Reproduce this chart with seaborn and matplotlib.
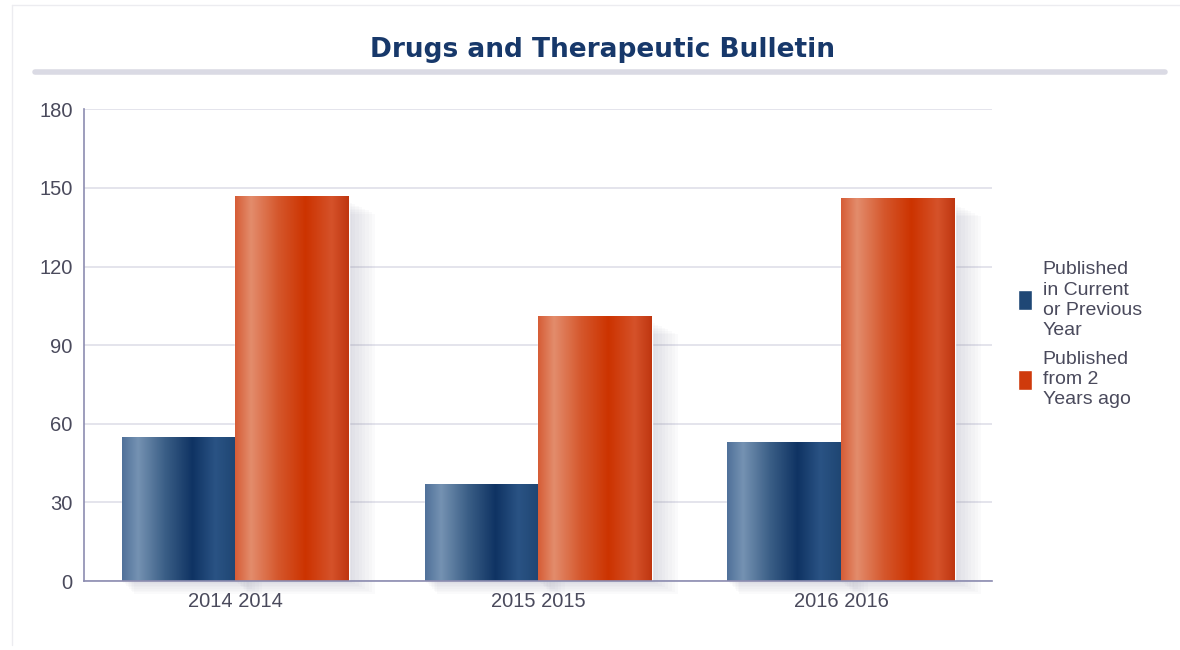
import numpy as np
import pandas as pd
import seaborn as sns
from matplotlib import pyplot as plt
from matplotlib.colors import LinearSegmentedColormap
from matplotlib.lines import Line2D
from matplotlib.patches import Rectangle

years = ['2014 2014', '2015 2015', '2016 2016']
series = ['Published\nin Current\nor Previous\nYear', 'Published\nfrom 2\nYears ago']
current_prev = [55, 37, 53]
two_years_ago = [147, 101, 146]
yticks = [0, 30, 60, 90, 120, 150, 180]

df = pd.DataFrame({
    'year': years * 2,
    'series': [series[0]] * 3 + [series[1]] * 3,
    'value': current_prev + two_years_ago,
})

sns.set_theme(style='white')
plt.rcParams['font.family'] = ['Liberation Sans', 'DejaVu Sans']

fig = plt.figure(figsize=(11.8, 6.5), dpi=100)
ax = fig.add_axes([0.071, 0.106, 0.77, 0.726])

palette = ['#1f4775', '#cf3a0c']
sns.barplot(data=df, x='year', y='value', hue='series', palette=palette,
            width=0.75, saturation=1, ax=ax, legend=True, zorder=3)

blue_cmap = LinearSegmentedColormap.from_list('blu', [
    (0, '#50719a'), (0.14, '#7592b2'), (0.38, '#3a5e86'), (0.62, '#0f3363'),
    (0.82, '#2a5384'), (1, '#1f4673')])
orange_cmap = LinearSegmentedColormap.from_list('org', [
    (0, '#d65d36'), (0.14, '#e38c6c'), (0.38, '#d5572c'), (0.62, '#cc3300'),
    (0.85, '#d5522a'), (1, '#bf3610')])

grad = np.linspace(0, 1, 256).reshape(1, -1)
for cont, cmap in zip(ax.containers, [blue_cmap, orange_cmap]):
    for bar in cont:
        x0, y0 = bar.get_x(), bar.get_y()
        w, h = bar.get_width(), bar.get_height()
        # soft shadow to the right / below
        for k in range(1, 9):
            ax.add_patch(Rectangle((x0 + 0.005 * k, y0 - 0.6 * k), w + 0.006 * k, h - 2,
                                   color='#8a8aa4', alpha=0.035, lw=0, zorder=2,
                                   clip_on=False))
        im = ax.imshow(grad, cmap=cmap, extent=[x0, x0 + w, y0, y0 + h],
                       aspect='auto', zorder=4, interpolation='bilinear')
        im.set_clip_path(bar)

ax.set_xlim(-0.5, 2.5)
ax.set_ylim(0, 180)
ax.set_yticks(yticks)
ax.set_xlabel('')
ax.set_ylabel('')
ax.yaxis.grid(True, color='#e2e2ea', lw=1.3, zorder=0)
ax.set_axisbelow(True)
for side in ['top', 'right']:
    ax.spines[side].set_visible(False)
for side in ['left', 'bottom']:
    ax.spines[side].set_color('#8c8cb0')
    ax.spines[side].set_linewidth(1.2)
    ax.spines[side].set_zorder(6)
ax.tick_params(axis='both', labelsize=14.5, colors='#4a4a5c', length=0, pad=8)

handles, labels = ax.get_legend_handles_labels()
ax.get_legend().remove()
leg = fig.legend(handles, labels, loc='upper left', bbox_to_anchor=(1000 / 1180, 1 - 244 / 650),
                 frameon=False, fontsize=14, labelcolor='#4a4a5c', handlelength=0.75,
                 handleheight=1.2, handletextpad=0.55, labelspacing=0.6)
for t in leg.get_texts():
    t.set_linespacing(1.25)

fig.text(603 / 1180, 1 - 50 / 650, 'Drugs and Therapeutic Bulletin', ha='center', va='center',
         fontsize=19, fontweight='bold', color='#17386a', family='DejaVu Sans')
fig.add_artist(Line2D([35 / 1180, 1165 / 1180], [1 - 72 / 650] * 2, color='#dadae4', lw=4))
fig.add_artist(Line2D([12 / 1180, 12 / 1180], [1 - 645 / 650, 1 - 5 / 650], color='#ececf0', lw=1))
fig.add_artist(Line2D([12 / 1180, 1180 / 1180], [1 - 5 / 650] * 2, color='#ececf0', lw=1))

fig.savefig('out.png', dpi=100)
